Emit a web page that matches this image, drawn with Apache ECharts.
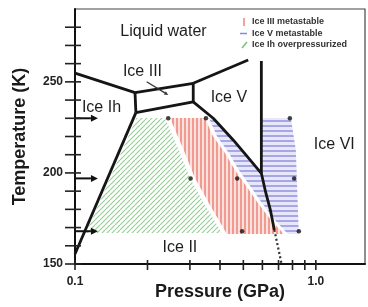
<!DOCTYPE html>
<html>
<head>
<meta charset="utf-8">
<script src="https://cdn.jsdelivr.net/npm/echarts@6/dist/echarts.min.js"></script>
<style>
html, body { margin: 0; padding: 0; background: #fff; }
#chart { width: 368px; height: 307px; }
</style>
</head>
<body>
<div id="chart"></div>
<script>
// x = pressure (GPa, log), y = temperature (K)
const xTicks = [0.1, 0.2, 0.3, 0.4, 0.5, 0.6, 0.7, 0.8, 0.9, 1.0];
const yTicks = [150, 160, 170, 180, 190, 200, 210, 220, 230, 240, 250, 260, 270, 280];
const yLabels = [150, 200, 250];

// phase boundaries
const liquidIh = [[0.1, 254.8], [0.1775, 244.1]];
const ihIII = [[0.1775, 244.1], [0.179, 233.1]];
const iceIIITop = [[0.1775, 244.1], [0.3097, 249.2]];
const iceIIIBottom = [[0.179, 233.1], [0.3097, 239.0]];
const iiiV = [[0.3097, 249.2], [0.3097, 239.0]];
const liquidV = [[0.3097, 249.2], [0.5237, 262.0]];
const vVI = [[0.594, 261.5], [0.594, 199.8]];
const iiV_VI = [[0.3097, 239.0], [0.375, 230.0], [0.4537, 218.1], [0.5123, 209.9], [0.594, 199.8], [0.620, 189.0], [0.6474, 179.7], [0.6726, 168.7]];
const iiVIExtrap = [[0.6726, 168.7], [0.7207, 150]];
const ihII = [[0.179, 233.1], [0.1, 155.5]];

// hatched regions
const ihOver = [[0.1799, 230.2], [0.2362, 230.2], [0.2676, 213.7], [0.3001, 197.2], [0.3463, 182.4], [0.4074, 167.0], [0.1110, 167.0]];
const iiiMeta = [[0.2478, 230.2], [0.3463, 230.2], [0.3737, 220.3], [0.4193, 211.0], [0.4612, 201.6], [0.5173, 192.3], [0.5744, 183.5], [0.6506, 174.2], [0.7366, 166.5], [0.4272, 166.5], [0.3632, 182.4], [0.3147, 197.2], [0.2806, 213.7]];
const vMeta = [[0.3597, 230.2], [0.3756, 230.2], [0.4537, 218.1], [0.5123, 209.9], [0.594, 199.8], [0.594, 230.2], [0.7874, 230.2], [0.826, 212.6], [0.850, 166.5], [0.7651, 166.5], [0.6761, 174.2], [0.5970, 183.5], [0.5374, 192.3], [0.4791, 201.6], [0.4355, 211.0], [0.3883, 220.3]];

// sample points
const points = [[0.2438, 230], [0.3497, 230], [0.780, 230], [0.302, 197], [0.4715, 197], [0.8128, 197], [0.4942, 168], [0.850, 168]];
const arrowTemps = [230, 197, 168];
const arrowFrom = 0.1, arrowTo = 0.1245;
const pointer = [[0.1984, 250.1, 0.2438, 242.8]];

const regionNames = ['Liquid water', 'Ice III', 'Ice Ih', 'Ice V', 'Ice VI', 'Ice II'];
const regionP = [0.2330, 0.1906, 0.1288, 0.4355, 1.193, 0.2727];
const regionT = [277.4, 255.4, 235.7, 241.2, 215.3, 158.8];

const legendNames = ['Ice III metastable', 'Ice V metastable', 'Ice Ih overpressurized'];

function tile(w, h, draw) {
    let c = document.createElement('canvas');
    c.width = w; c.height = h;
    draw(c.getContext('2d'));
    return c;
}
// 斜线 / 竖线 / 横线
const greenPat = tile(5, 5, function (ctx) {
    ctx.strokeStyle = '#93cc93';
    ctx.lineWidth = 1.1;
    for (let k = -1; k <= 1; k++) {
        ctx.beginPath();
        ctx.moveTo(k * 5, 5);
        ctx.lineTo(k * 5 + 5, 0);
        ctx.stroke();
    }
});
const redPat = tile(4, 4, function (ctx) {
    ctx.fillStyle = '#fde1dd';
    ctx.fillRect(0, 0, 4, 4);
    ctx.fillStyle = '#f19a92';
    ctx.fillRect(0, 0, 2, 4);
});
const bluePat = tile(4, 5, function (ctx) {
    ctx.fillStyle = '#e7e7f9';
    ctx.fillRect(0, 0, 4, 5);
    ctx.fillStyle = '#a7a7e6';
    ctx.fillRect(0, 0, 4, 2);
});

function region(pts, pat) {
    return {
        type: 'custom', z: 1, silent: true,
        data: [pts[0]],
        renderItem: function (params, api) {
            return {
                type: 'polygon',
                shape: { points: pts.map(function (d) { return api.coord(d); }) },
                style: { fill: { image: pat, repeat: 'repeat' }, stroke: null }
            };
        }
    };
}

function lineSeries(data, dashed) {
    return {
        type: 'line', z: 3, silent: true, symbol: 'none', data: data,
        lineStyle: { color: dashed ? '#333' : '#151515', width: dashed ? 2.2 : 2.8, type: dashed ? [2, 2.5] : 'solid' }
    };
}

function arrowShape(a, b, w, hl, hw, color) {
    let dx = b[0] - a[0], dy = b[1] - a[1];
    let len = Math.sqrt(dx * dx + dy * dy);
    let ux = dx / len, uy = dy / len;
    let bx = b[0] - ux * hl, by = b[1] - uy * hl;
    return [{
        type: 'line',
        shape: { x1: a[0], y1: a[1], x2: bx, y2: by },
        style: { stroke: color, lineWidth: w }
    }, {
        type: 'polygon',
        shape: { points: [b, [bx - uy * hw, by + ux * hw], [bx + uy * hw, by - ux * hw]] },
        style: { fill: color }
    }];
}

let chart = echarts.init(document.getElementById('chart'));
let option = {
    animation: false,
    backgroundColor: '#fff',
    grid: {
        left: 75, right: 3, top: 9, bottom: 43,
        show: true, borderColor: '#444', borderWidth: 1.2,
        outerBoundsMode: 'none'
    },
    xAxis: {
        type: 'log', logBase: 10, min: 0.1, max: 1.6,
        name: 'Pressure (GPa)', nameLocation: 'middle', nameGap: 19, nameMoveOverlap: false,
        nameTextStyle: { fontFamily: 'Liberation Sans', fontWeight: 'bold', fontSize: 18, color: '#1a1a1a', verticalAlign: 'top' },
        axisLine: { lineStyle: { color: '#111', width: 2 } },
        axisTick: { show: false },
        splitLine: { show: false },
        axisLabel: {
            margin: 12, fontFamily: 'Liberation Sans', fontWeight: 'bold', fontSize: 12, color: '#222',
            formatter: function (v) {
                if (Math.abs(v - 0.1) < 1e-6) return '0.1';
                if (Math.abs(v - 1) < 1e-6) return '1.0';
                return '';
            }
        }
    },
    yAxis: {
        type: 'value', min: 150, max: 290, interval: 10,
        name: 'Temperature (K)', nameLocation: 'middle', nameGap: 46, nameRotate: 90, nameMoveOverlap: false,
        nameTextStyle: { fontFamily: 'Liberation Sans', fontWeight: 'bold', fontSize: 18, color: '#1a1a1a' },
        axisLine: { show: true, lineStyle: { color: '#111', width: 2 } },
        axisTick: { show: false },
        splitLine: { show: false },
        axisLabel: {
            margin: 12, fontFamily: 'Liberation Sans', fontWeight: 'bold', fontSize: 12, color: '#222',
            formatter: function (v) { return yLabels.indexOf(v) >= 0 ? String(v) : ''; }
        }
    },
    graphic: legendNames.map(function (n, i) {
        let y = 22 + i * 11.5;
        let sym;
        if (i === 0) sym = { type: 'line', shape: { x1: 244, y1: y - 4, x2: 244, y2: y + 4 }, style: { stroke: '#e8847b', lineWidth: 1.5 } };
        else if (i === 1) sym = { type: 'line', shape: { x1: 240, y1: y, x2: 247, y2: y }, style: { stroke: '#8a8ad8', lineWidth: 1.5 } };
        else sym = { type: 'line', shape: { x1: 242, y1: y + 3, x2: 247, y2: y - 3 }, style: { stroke: '#7cc07c', lineWidth: 1.5 } };
        return {
            type: 'group', silent: true,
            children: [sym, {
                type: 'text', x: 252, y: y,
                style: { text: n, fill: '#333', font: 'bold 9px "Liberation Sans"', textVerticalAlign: 'middle' }
            }]
        };
    }),
    series: [
        region(ihOver, greenPat),
        region(iiiMeta, redPat),
        region(vMeta, bluePat),
        lineSeries(liquidIh), lineSeries(ihIII), lineSeries(iceIIITop), lineSeries(iceIIIBottom),
        lineSeries(iiiV), lineSeries(liquidV), lineSeries(vVI), lineSeries(iiV_VI), lineSeries(ihII),
        lineSeries(iiVIExtrap, true),
        {
            type: 'scatter', z: 4, silent: true, data: points,
            symbol: 'circle', symbolSize: 4.5, itemStyle: { color: '#111' }
        },
        {
            // 左侧箭头
            type: 'custom', z: 4, silent: true,
            data: arrowTemps.map(function (t) { return [arrowFrom, t]; }),
            renderItem: function (params, api) {
                let t = api.value(1);
                let a = api.coord([arrowFrom, t]), b = api.coord([arrowTo, t]);
                return { type: 'group', children: arrowShape(a, b, 2, 7, 3.5, '#111') };
            }
        },
        {
            type: 'custom', z: 4, silent: true,
            data: pointer,
            renderItem: function (params, api) {
                let a = api.coord([api.value(0), api.value(1)]);
                let b = api.coord([api.value(2), api.value(3)]);
                return { type: 'group', children: arrowShape(a, b, 1.2, 4, 2, '#333') };
            }
        },
        {
            type: 'custom', z: 5, silent: true,
            data: xTicks.map(function (p) { return [p, 150]; }),
            renderItem: function (params, api) {
                let c = api.coord([api.value(0), 150]);
                return { type: 'line', shape: { x1: c[0], y1: c[1] - 4, x2: c[0], y2: c[1] + 6 }, style: { stroke: '#222', lineWidth: 1.6 } };
            }
        },
        {
            type: 'custom', z: 5, silent: true,
            data: yTicks.map(function (t) { return [0.1, t]; }),
            renderItem: function (params, api) {
                let c = api.coord([0.1, api.value(1)]);
                return { type: 'line', shape: { x1: c[0] - 10, y1: c[1], x2: c[0] + 6, y2: c[1] }, style: { stroke: '#222', lineWidth: 1.6 } };
            }
        },
        {
            type: 'custom', z: 6, silent: true,
            data: regionP.map(function (p, i) { return [p, regionT[i], i]; }),
            renderItem: function (params, api) {
                let c = api.coord([api.value(0), api.value(1)]);
                return {
                    type: 'text', x: c[0], y: c[1],
                    style: {
                        text: regionNames[api.value(2)], fill: '#1e1e1e',
                        font: '16px "Liberation Sans"', textAlign: 'center', textVerticalAlign: 'middle'
                    }
                };
            }
        }
    ]
};
chart.setOption(option);
</script>
</body>
</html>
